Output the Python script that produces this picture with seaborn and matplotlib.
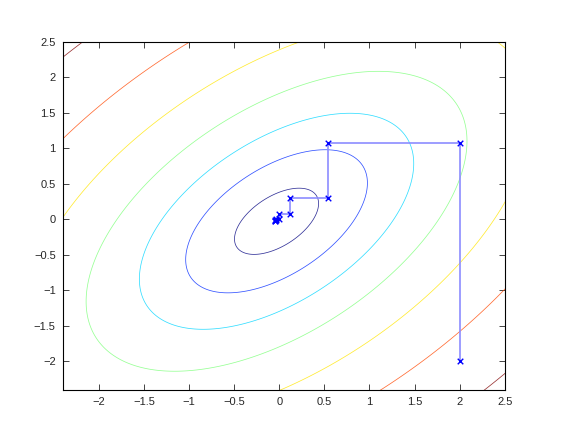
import numpy as np
import pandas as pd
import matplotlib
matplotlib.use("Agg")
import matplotlib.pyplot as plt
import seaborn as sns

# quadratic f(x,y) = (x-cx)^2 + (y-cy)^2 - k (x-cx)(y-cy)
centro = [-0.03, -0.03]
k_cruz = 1.07
niveles = [0.155, 0.724, 1.65, 3.18, 5.75, 9.9, 16.8]

# coordinate descent path
path_x = [2.0, 2.0, 0.539, 0.539, 0.114, 0.114, -0.004, -0.004, -0.035, -0.035, -0.045, -0.045, -0.05]
path_y = [-2.0, 1.075, 1.075, 0.298, 0.298, 0.07, 0.07, 0.005, 0.005, -0.015, -0.015, -0.02, -0.02]

ticks = [-2, -1.5, -1, -0.5, 0, 0.5, 1, 1.5, 2, 2.5]
lims = [-2.4, 2.5]

sns.set_style("ticks")
plt.rcParams["font.family"] = ["Liberation Sans", "DejaVu Sans"]

fig = plt.figure(figsize=(5.84, 4.24), dpi=100)
ax = fig.add_axes([0.1074, 0.081, 0.757, 0.821])

gx, gy = np.meshgrid(np.linspace(-2.5, 2.6, 400), np.linspace(-2.5, 2.6, 400))
dx = gx - centro[0]
dy = gy - centro[1]
z = dx**2 + dy**2 - k_cruz * dx * dy
colores = plt.cm.jet(np.linspace(0, 1, len(niveles)))
ax.contour(gx, gy, z, levels=niveles, colors=colores, linewidths=0.55, alpha=0.8)

df = pd.DataFrame({"x": path_x, "y": path_y})
sns.lineplot(data=df, x="x", y="y", sort=False, estimator=None, color="#8c8cff", lw=1.2, ax=ax)
sns.scatterplot(data=df, x="x", y="y", marker="x", color="#0000ff", s=16, linewidth=1.0, ax=ax, zorder=5)

ax.set_xlim(lims)
ax.set_ylim(lims)
ax.set_xticks(ticks)
ax.set_yticks(ticks)
ax.set_xticklabels([("%g" % t).replace("-", "\u2212") for t in ticks])
ax.set_yticklabels([("%g" % t).replace("-", "\u2212") for t in ticks])
ax.set_xlabel("")
ax.set_ylabel("")
ax.tick_params(direction="in", top=True, right=True, length=4, width=0.6, labelsize=8, pad=5)
for s in ax.spines.values():
    s.set_visible(True)
    s.set_linewidth(0.8)
    s.set_color("black")

fig.savefig("out.png", dpi=100)
